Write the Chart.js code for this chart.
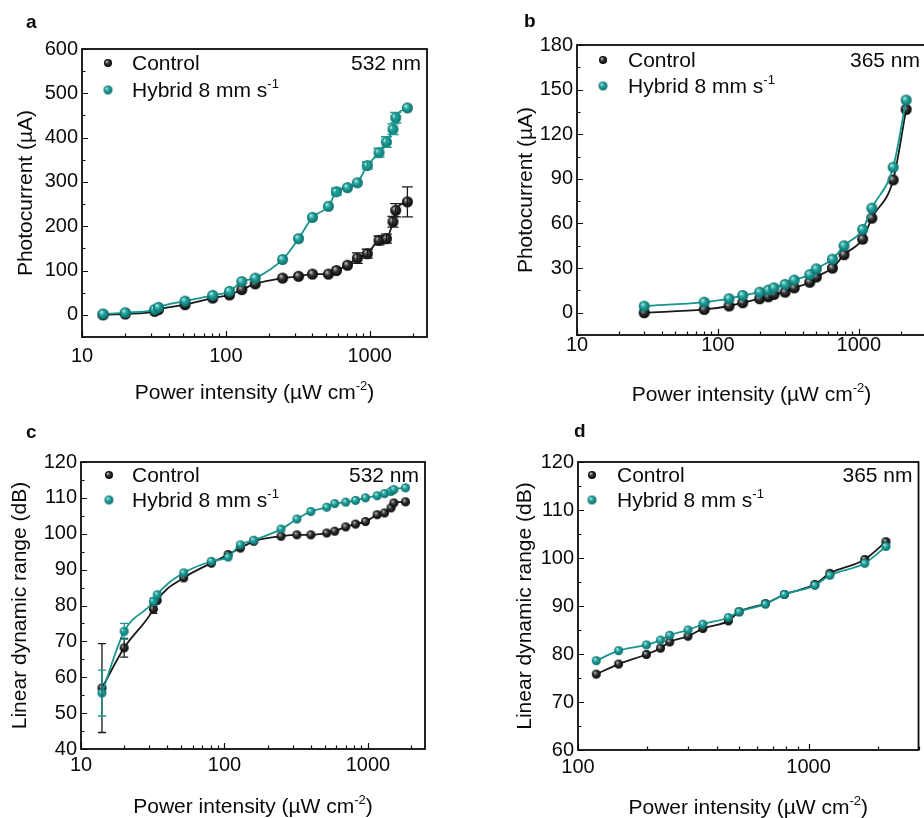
<!DOCTYPE html>
<html>
<head>
<meta charset="utf-8">
<script src="https://cdn.jsdelivr.net/npm/chart.js@4.4.1/dist/chart.umd.min.js"></script>
<style>
  html, body { margin: 0; padding: 0; background: #fff; overflow: hidden; width: 924px; height: 818px; }
  canvas { position: absolute; }
</style>
</head>
<body>
<canvas id="chartA" width="460" height="410" style="left:0;top:0"></canvas>
<canvas id="chartB" width="480" height="410" style="left:460px;top:0"></canvas>
<canvas id="chartC" width="460" height="408" style="left:0;top:410px"></canvas>
<canvas id="chartD" width="464" height="408" style="left:460px;top:410px"></canvas>
<script>
// power intensities (uW cm-2)
var greenPower = [14, 20, 32, 34, 52, 81, 106, 129, 160, 248, 320, 400, 516, 587, 700, 820, 962, 1160, 1306, 1450, 1516, 1827];
var uvPower = [30, 80, 120, 150, 198, 228, 250, 300, 348, 449, 500, 650, 786, 1065, 1238, 1754, 2168];
var uvPowerLdr = [120, 150, 198, 228, 250, 300, 348, 449, 500, 650, 786, 1065, 1238, 1754, 2168];

// a: photocurrent at 532 nm (uA)
var aControl = [0, 2, 8, 12, 23, 38, 45, 57, 70, 83, 87, 92, 92, 100, 112, 128, 138, 168, 172, 210, 236, 255];
var aControlErr = [0, 0, 0, 0, 0, 0, 0, 0, 0, 0, 0, 0, 0, 0, 0, 12, 10, 10, 10, 12, 15, 34];
var aHybrid = [2, 5, 12, 17, 31, 44, 53, 75, 83, 125, 172, 220, 245, 278, 287, 298, 337, 366, 390, 419, 445, 467];
var aHybridErr = [0, 0, 0, 0, 0, 0, 0, 0, 0, 0, 0, 0, 0, 8, 0, 0, 8, 10, 12, 12, 12, 0];

// b: photocurrent at 365 nm (uA)
var bControl = [0, 2.2, 4.5, 6.7, 9.4, 10.7, 12.3, 13.8, 16.7, 20.5, 24, 30, 39, 49.5, 63.6, 89.3, 136.7];
var bHybrid = [4.4, 7.1, 9.4, 11.6, 13.8, 15.2, 16.7, 19, 21.9, 25.6, 29.5, 36, 45, 56, 70.3, 97.8, 143];

// c: LDR at 532 nm (dB)
var cControl = [57, 68.2, 79, 81.4, 87.7, 91.8, 94.2, 96, 97.9, 99.3, 99.7, 99.7, 100.2, 100.7, 101.9, 102.7, 103.4, 105.3, 105.8, 107.2, 108.6, 108.9];
var cControlErr = [12.4, 2.6, 1.2, 0, 0, 0, 0, 0, 0, 0, 0, 0, 0, 0, 0, 0, 0, 0, 0, 0, 0, 0];
var cHybrid = [55.6, 72.8, 81.1, 83, 89.1, 92.3, 93.5, 96.9, 98.2, 101.3, 104.1, 106.2, 107.4, 108.4, 108.8, 109.3, 110, 110.6, 111.2, 111.8, 112.3, 112.8];
var cHybridErr = [6.4, 2.2, 1, 0, 0, 0, 0, 0, 0, 0, 0, 0, 0, 0, 0, 0, 0, 0, 0, 0, 0, 0];

// d: LDR at 365 nm (dB)
var dControl = [75.8, 77.9, 79.9, 81.2, 82.5, 83.7, 85.3, 86.9, 88.8, 90.5, 92.4, 94.5, 96.8, 99.7, 103.4];
var dHybrid = [78.6, 80.7, 81.9, 82.9, 83.9, 85, 86.2, 87.6, 88.8, 90.4, 92.4, 94.3, 96.4, 98.9, 102.4];

var seriesNames = ["Control", "Hybrid 8 mm s^{-1}"];
var xTitle = "Power intensity (\u00b5W cm^{-2})";

var FONT = "'Liberation Sans', Arial, Helvetica, sans-serif";
var INK = "#0a0a0a";
var BLACK = "#1a1a1a";
var TEAL = "#17958f";

// shaded ball used as point marker
function ball(r, light, mid, dark) {
  var c = document.createElement("canvas");
  c.width = c.height = Math.ceil(r * 2 + 2);
  var g = c.getContext("2d");
  var m = c.width / 2;
  var grad = g.createRadialGradient(m - r * 0.35, m - r * 0.4, r * 0.05, m, m, r);
  grad.addColorStop(0, light);
  grad.addColorStop(0.45, mid);
  grad.addColorStop(1, dark);
  g.fillStyle = grad;
  g.beginPath();
  g.arc(m, m, r, 0, Math.PI * 2);
  g.fill();
  return c;
}
function blackBall(r) { return ball(r, "#c0c0c0", "#333333", "#030303"); }
function tealBall(r) { return ball(r, "#b5ebe6", "#20a19b", "#0b6b67"); }

// text with ^{...} superscripts
function richText(ctx, str, x, y, size, align) {
  var parts = [];
  var re = /\^\{([^}]*)\}/g, last = 0, m;
  while ((m = re.exec(str))) {
    if (m.index > last) parts.push([str.slice(last, m.index), false]);
    parts.push([m[1], true]);
    last = re.lastIndex;
  }
  if (last < str.length) parts.push([str.slice(last), false]);
  var supSize = Math.round(size * 0.62);
  var w = 0;
  parts.forEach(function (p) {
    ctx.font = (p[1] ? supSize : size) + "px " + FONT;
    p.push(ctx.measureText(p[0]).width);
    w += p[2];
  });
  var cx = align === "center" ? x - w / 2 : align === "right" ? x - w : x;
  parts.forEach(function (p) {
    ctx.font = (p[1] ? supSize : size) + "px " + FONT;
    ctx.fillText(p[0], cx, p[1] ? y - size * 0.42 : y);
    cx += p[2];
  });
}

var deco = {
  id: "deco",
  afterDatasetsDraw: function (chart, args, o) {
    var ctx = chart.ctx, x = chart.scales.x, y = chart.scales.y;
    chart.data.datasets.forEach(function (ds, i) {
      var err = o.errors && o.errors[i];
      if (!err) return;
      ctx.save();
      ctx.strokeStyle = ds.borderColor;
      ctx.lineWidth = 1.3;
      ds.data.forEach(function (p, j) {
        if (!err[j]) return;
        var px = x.getPixelForValue(p.x);
        var y0 = y.getPixelForValue(p.y - err[j]);
        var y1 = y.getPixelForValue(p.y + err[j]);
        ctx.beginPath();
        ctx.moveTo(px, y0); ctx.lineTo(px, y1);
        ctx.moveTo(px - o.cap, y0); ctx.lineTo(px + o.cap, y0);
        ctx.moveTo(px - o.cap, y1); ctx.lineTo(px + o.cap, y1);
        ctx.stroke();
      });
      ctx.restore();
    });
  },
  afterDraw: function (chart, args, o) {
    var ctx = chart.ctx, a = chart.chartArea, x = chart.scales.x, y = chart.scales.y;
    ctx.save();
    // frame
    ctx.strokeStyle = INK;
    ctx.lineWidth = 1.8;
    ctx.strokeRect(a.left, a.top, a.right - a.left, a.bottom - a.top);
    // inward ticks
    ctx.lineWidth = 1.2;
    ctx.beginPath();
    for (var v = y.min; v <= y.max + 1e-9; v += o.yMinor) {
      var py = Math.round(y.getPixelForValue(v)) + 0.5;
      var major = Math.abs(v / o.yMajor - Math.round(v / o.yMajor)) < 1e-6;
      ctx.moveTo(a.left, py);
      ctx.lineTo(a.left + (major ? 6 : 3.5), py);
    }
    for (var d = 1; d <= 10000; d *= 10) {
      for (var k = 1; k < 10; k++) {
        var xv = d * k;
        if (xv < x.min || xv > x.max) continue;
        var px = Math.round(x.getPixelForValue(xv)) + 0.5;
        ctx.moveTo(px, a.bottom);
        ctx.lineTo(px, a.bottom - (k === 1 ? 6 : 3.5));
      }
    }
    ctx.stroke();

    ctx.fillStyle = INK;
    ctx.textBaseline = "alphabetic";
    // panel letter
    ctx.font = "bold 19px " + FONT;
    ctx.textAlign = "left";
    ctx.fillText(o.letter, o.letterX, o.letterY);
    // x title
    richText(ctx, xTitle, (a.left + a.right) / 2, o.xTitleY, 21, "center");
    // y title
    ctx.save();
    ctx.translate(o.yTitleX, (a.top + a.bottom) / 2);
    ctx.rotate(-Math.PI / 2);
    ctx.font = "21px " + FONT;
    ctx.textAlign = "center";
    ctx.fillText(o.yTitle, 0, 0);
    ctx.restore();
    // legend inside the frame
    ctx.textAlign = "left";
    chart.data.datasets.forEach(function (ds, i) {
      var img = o.legendBalls[i];
      ctx.drawImage(img, o.legendMX - img.width / 2, o.legendRows[i] - 7 - img.height / 2);
      richText(ctx, ds.label, o.legendTX, o.legendRows[i], 21, "left");
    });
    // wavelength
    ctx.font = "21px " + FONT;
    ctx.textAlign = "right";
    ctx.fillText(o.wave, a.right - 6, o.legendRows[0]);
    ctx.restore();
  }
};

function pts(xs, ys) {
  return xs.map(function (v, i) { return { x: v, y: ys[i] }; });
}

function panel(id, p) {
  var tickFont = { family: FONT, size: 20 };
  return new Chart(document.getElementById(id), {
    type: "line",
    data: {
      datasets: [
        { label: seriesNames[0], data: pts(p.x, p.control), borderColor: BLACK, pointStyle: blackBall(p.r), order: 1 },
        { label: seriesNames[1], data: pts(p.x, p.hybrid), borderColor: TEAL, pointStyle: tealBall(p.r), order: 0 }
      ]
    },
    options: {
      responsive: false,
      animation: false,
      events: [],
      layout: { padding: { left: 0, top: p.top, right: p.right, bottom: 0 } },
      elements: {
        line: { borderWidth: 1.8, cubicInterpolationMode: "monotone", fill: false },
        point: { radius: p.r, hoverRadius: p.r }
      },
      scales: {
        x: {
          type: "logarithmic",
          min: p.xMin,
          max: p.xMax,
          afterBuildTicks: function (s) { s.ticks = p.xTicks.map(function (v) { return { value: v }; }); },
          afterFit: function (s) { s.height = p.xh; },
          grid: { display: false, drawTicks: false },
          border: { display: false },
          ticks: { font: tickFont, color: INK, padding: p.xPad, maxRotation: 0, autoSkip: false,
                   callback: function (v) { return String(v); } }
        },
        y: {
          type: "linear",
          min: p.yMin,
          max: p.yMax,
          afterBuildTicks: function (s) { s.ticks = p.yTicks.map(function (v) { return { value: v }; }); },
          afterFit: function (s) { s.width = p.yw; },
          grid: { display: false, drawTicks: false },
          border: { display: false },
          ticks: { font: tickFont, color: INK, padding: 4 }
        }
      },
      plugins: {
        legend: { display: false },
        tooltip: { enabled: false },
        deco: {
          letter: p.letter, letterX: p.letterX, letterY: p.letterY,
          yTitle: p.yTitle, yTitleX: p.yTitleX, xTitleY: p.xTitleY,
          wave: p.wave, yMajor: p.yMajor, yMinor: p.yMinor,
          errors: p.errors, cap: p.cap,
          legendBalls: [blackBall(4), tealBall(4.5)],
          legendMX: p.legendMX, legendTX: p.legendTX, legendRows: p.legendRows
        }
      }
    },
    plugins: [deco]
  });
}

panel("chartA", {
  x: greenPower, control: aControl, hybrid: aHybrid, errors: [aControlErr, aHybridErr], cap: 5.5,
  r: 5.5, top: 49, right: 33, yw: 82, xh: 73, xPad: 7,
  xMin: 10, xMax: 2500, xTicks: [10, 100, 1000],
  yMin: -50, yMax: 600, yTicks: [0, 100, 200, 300, 400, 500, 600], yMajor: 100, yMinor: 50,
  letter: "a", letterX: 26, letterY: 28, yTitle: "Photocurrent (\u00b5A)", yTitleX: 32, xTitleY: 399,
  wave: "532 nm", legendMX: 108, legendTX: 132, legendRows: [70, 97]
});

panel("chartB", {
  x: uvPower, control: bControl, hybrid: bHybrid,
  r: 5.5, top: 45, right: 14, yw: 117, xh: 75, xPad: -2,
  xMin: 10, xMax: 3000, xTicks: [10, 100, 1000],
  yMin: -15, yMax: 180, yTicks: [0, 30, 60, 90, 120, 150, 180], yMajor: 30, yMinor: 15,
  letter: "b", letterX: 64, letterY: 27, yTitle: "Photocurrent (\u00b5A)", yTitleX: 72, xTitleY: 401,
  wave: "365 nm", legendMX: 143, legendTX: 168, legendRows: [67, 93]
});

panel("chartC", {
  x: greenPower, control: cControl, hybrid: cHybrid, errors: [cControlErr, cHybridErr], cap: 4,
  r: 4.5, top: 52, right: 35, yw: 81, xh: 69, xPad: 4,
  xMin: 10, xMax: 2500, xTicks: [10, 100, 1000],
  yMin: 40, yMax: 120, yTicks: [40, 50, 60, 70, 80, 90, 100, 110, 120], yMajor: 10, yMinor: 5,
  letter: "c", letterX: 26, letterY: 28, yTitle: "Linear dynamic range (dB)", yTitleX: 26, xTitleY: 403,
  wave: "532 nm", legendMX: 109, legendTX: 132, legendRows: [72, 97]
});

panel("chartD", {
  x: uvPowerLdr, control: dControl, hybrid: dHybrid,
  r: 4.5, top: 52, right: 1, yw: 118, xh: 68, xPad: 5,
  xMin: 100, xMax: 3000, xTicks: [100, 1000],
  yMin: 60, yMax: 120, yTicks: [60, 70, 80, 90, 100, 110, 120], yMajor: 10, yMinor: 5,
  letter: "d", letterX: 114, letterY: 27, yTitle: "Linear dynamic range (dB)", yTitleX: 71, xTitleY: 404,
  wave: "365 nm", legendMX: 132, legendTX: 157, legendRows: [72, 97]
});
</script>
</body>
</html>
